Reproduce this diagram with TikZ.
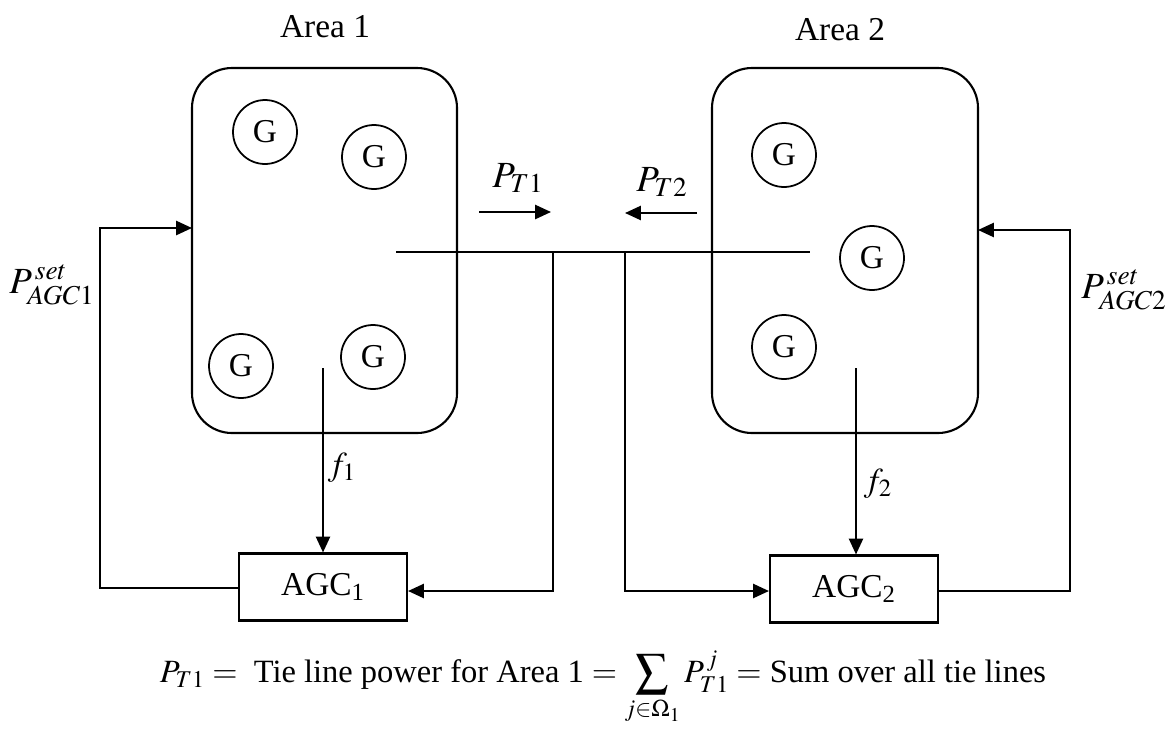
\documentclass[tikz,border=0pt]{standalone}
\usepackage{mathptmx}
\usepackage{fontspec}
\setmainfont{Liberation Serif}
\usetikzlibrary{arrows.meta}
\begin{document}
\begin{tikzpicture}[x=0.02cm,y=-0.02cm,
  every node/.style={font=\fontsize{19}{22}\selectfont},
  area/.style={draw,line width=1.2pt,rounded corners=0.8cm},
  gen/.style={draw,circle,line width=1pt,minimum size=1.28cm,inner sep=0pt},
  agc/.style={draw,line width=1.2pt,minimum width=3.36cm,minimum height=1.34cm,inner sep=0pt},
  ln/.style={line width=1.2pt},
  arr/.style={line width=1.2pt,-{Triangle[length=9pt,width=8pt]}}]
\useasboundingbox (0,0) rectangle (1172,734);
% areas
\draw[area] (192,68) rectangle (457,433);
\draw[area] (712,68) rectangle (978,433);
\node (a1) at (325,27) {Area 1};
\node (a2) at (840,30) {Area 2};
% generators
\node[gen] (g1) at (265,132) {G};
\node[gen] (g2) at (374,157) {G};
\node[gen] (g3) at (241,366) {G};
\node[gen] (g4) at (373,357) {G};
\node[gen] (g5) at (784,155) {G};
\node[gen] (g6) at (872,258) {G};
\node[gen] (g7) at (784,347) {G};
% AGC boxes
\node[agc] (agc1) at (323,587) {AGC\textsubscript{1}};
\node[agc] (agc2) at (854,589) {AGC\textsubscript{2}};
% coordinates
\coordinate (tl) at (396,252);
\coordinate (tr) at (810,252);
\coordinate (t1) at (553,252);
\coordinate (t2) at (625,252);
\coordinate (f1s) at (323,368);
\coordinate (f2s) at (856,368);
\coordinate (a1in) at (192,228);
\coordinate (a2in) at (978,230);
% tie line
\draw[ln] (tl) -- (tr);
\draw[arr] (t1) |- (agc1.east |- 0,591);
\draw[arr] (t2) |- (agc2.west |- 0,591);
% frequency
\draw[arr] (f1s) -- (f1s |- agc1.north);
\draw[arr] (f2s) -- (f2s |- agc2.north);
\node (f1) at (342,468) {$f_1$};
\node (f2) at (878,484) {$f_2$};
% feedback
\draw[arr] (agc1.west |- 0,588) -- (100,588) |- (a1in);
\draw[arr] (agc2.east |- 0,591) -- (1070,591) |- (a2in);
\node (p1) at (52,285) {\fontsize{21}{24}\selectfont$P_{AGC1}^{\,set}$};
\node (p2) at (1124,290) {\fontsize{21}{24}\selectfont$P_{AGC2}^{\,set}$};
% tie flow arrows
\coordinate (pa1) at (479,212);
\coordinate (pb1) at (551,212);
\coordinate (pa2) at (697,213);
\coordinate (pb2) at (625,213);
\draw[arr] (pa1) -- (pb1);
\draw[arr] (pa2) -- (pb2);
\node (pt1) at (518,178) {\fontsize{21}{24}\selectfont$P_{T1}$};
\node (pt2) at (662,182) {\fontsize{21}{24}\selectfont$P_{T2}$};
% formula
\node (eq) at (603,688) {\fontsize{18.5}{22}\selectfont$P_{T1} = $ \ Tie line power for Area 1 $=\displaystyle\sum_{j\in\Omega_1} P_{T1}^{\,j} =$ Sum over all tie lines};
\end{tikzpicture}
\end{document}
